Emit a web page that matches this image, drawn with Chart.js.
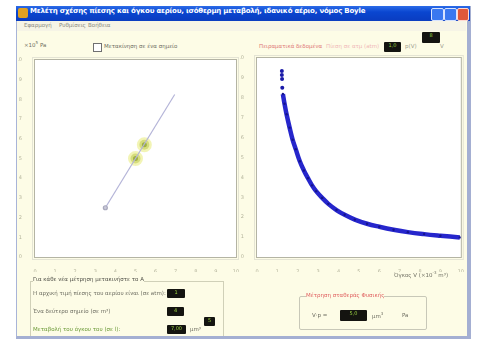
<!DOCTYPE html>
<html>
<head>
<meta charset="utf-8">
<script src="https://cdn.jsdelivr.net/npm/chart.js@4/dist/chart.umd.min.js"></script>
<style>
  body { margin: 0; width: 478px; height: 347px; background: #fff; position: relative; overflow: hidden;
         font-family: "DejaVu Sans", sans-serif; }
  .abs { position: absolute; white-space: nowrap; }
  #win { left: 16px; top: 6px; width: 450px; height: 330px; background: #fdfce6;
         border-left: 1px solid #a8b4d8; border-right: 4px solid #a4afd2; border-bottom: 3px solid #a4afd2; }
  #titlebar { left: 16px; top: 6px; width: 454px; height: 15px;
              background: linear-gradient(#2c6ce8, #0a46d0 40%, #0a3cc0); }
  #title { left: 30px; top: 7px; color: #fff; font-weight: bold; font-size: 7px; letter-spacing: -0.2px; }
  #menu { left: 17px; top: 21px; width: 449px; height: 10px; background: #f6f4e6; }
  .menuitem { top: 22px; font-size: 5.5px; color: #8a8a80; }
  .small { font-size: 5.5px; color: #6e6e62; }
  .box { background: #141410; border-radius: 1px; color: #9ad040; font-size: 5px; text-align: center; }
  canvas { position: absolute; }
</style>
</head>
<body>
<div id="win" class="abs"></div>
<div id="titlebar" class="abs"></div>
<div class="abs" style="left:18px;top:8px;width:10px;height:10px;background:#e0a020;border-radius:2px"></div>
<div id="title" class="abs">Μελέτη σχέσης πίεσης και όγκου αερίου, ισόθερμη μεταβολή, ιδανικό αέριο, νόμος Boyle</div>
<div class="abs" style="left:431px;top:8px;width:11px;height:11px;background:#3a78f0;border:1px solid #d8e4ff;border-radius:2px"></div>
<div class="abs" style="left:444px;top:8px;width:11px;height:11px;background:#3a78f0;border:1px solid #d8e4ff;border-radius:2px"></div>
<div class="abs" style="left:457px;top:8px;width:10px;height:11px;background:#e0583a;border:1px solid #ffd8d0;border-radius:2px"></div>
<div id="menu" class="abs"></div>
<div class="abs menuitem" style="left:24px">Εφαρμογή</div>
<div class="abs menuitem" style="left:59px">Ρυθμίσεις</div>
<div class="abs menuitem" style="left:88px">Βοήθεια</div>

<div class="abs small" style="left:24px;top:40px">×10<sup style="font-size:4px">5</sup> Pa</div>
<div class="abs" style="left:93px;top:43px;width:7px;height:7px;border:1px solid #707070;background:#fff"></div>
<div class="abs small" style="left:104px;top:43px">Μετακίνηση σε ένα σημείο</div>

<div class="abs small" style="left:259px;top:43px;color:#e07878">Πειραματικά δεδομένα</div>
<div class="abs small" style="left:326px;top:43px;color:#f0b8b8">Πίεση σε ατμ (atm)</div>
<div class="abs box" style="left:384px;top:42px;width:17px;height:10px">1,0</div>
<div class="abs small" style="left:405px;top:43px;color:#a0a090">p(V)</div>
<div class="abs small" style="left:440px;top:43px;color:#a0a090">V</div>
<div class="abs box" style="left:422px;top:32px;width:18px;height:11px">8</div>

<canvas id="leftChart" width="228" height="222" style="left:18px;top:50px"></canvas>
<canvas id="rightChart" width="228" height="222" style="left:240px;top:50px"></canvas>

<div class="abs small" style="left:394px;top:270px;color:#707064">Όγκος V (×10<sup style="font-size:4px">-3</sup> m³)</div>

<div class="abs" style="left:30px;top:281px;width:192px;height:54px;border:1px solid #d0d0b8;border-bottom:none"></div>
<div class="abs small" style="left:33px;top:276px;background:#fdfce6;color:#505048">Για κάθε νέα μέτρηση μετακινήστε το Α</div>
<div class="abs small" style="left:33px;top:290px">Η αρχική τιμή πίεσης του αερίου είναι (σε atm):</div>
<div class="abs box" style="left:167px;top:289px;width:18px;height:9px">1</div>
<div class="abs small" style="left:33px;top:308px">Ένα δεύτερο σημείο (σε m³)</div>
<div class="abs box" style="left:167px;top:307px;width:17px;height:9px">4</div>
<div class="abs small" style="left:33px;top:326px;color:#6c9a38">Μεταβολή του όγκου του (σε l):</div>
<div class="abs box" style="left:167px;top:325px;width:19px;height:9px">7,00</div>
<div class="abs small" style="left:190px;top:326px">μm³</div>
<div class="abs box" style="left:204px;top:317px;width:11px;height:9px">5</div>

<div class="abs" style="left:299px;top:296px;width:126px;height:32px;border:1px solid #c8c8b8;border-radius:2px"></div>
<div class="abs small" style="left:306px;top:292px;background:#fdfce6;color:#e06060">Μέτρηση σταθεράς Φυσικής</div>
<div class="abs small" style="left:312px;top:312px">V·p =</div>
<div class="abs box" style="left:340px;top:310px;width:27px;height:11px">5,0</div>
<div class="abs small" style="left:372px;top:311px">μm<sup style="font-size:4px">3</sup></div>
<div class="abs small" style="left:402px;top:312px">Pa</div>

<script>
// tick labels shared by both plots
const tickLabels = ['0', '1', '2', '3', '4', '5', '6', '7', '8', '9', '10'];

// left plot: p against 1/V
const lineX = [3.5, 6.95];
const lineY = [2.5, 8.25];
const markX = [5.0, 5.44];
const markY = [5.0, 5.7];

// right plot: p against V
const curveV = [1.27, 1.35, 1.45, 1.6, 1.75, 1.9, 2.1, 2.3, 2.5, 2.7, 2.9, 3.2, 3.5, 3.9, 4.3, 4.8, 5.4, 6.0, 6.7, 7.4, 8.2, 9.0, 9.95];
const curveP = [8.19, 7.7, 7.17, 6.5, 5.89, 5.42, 4.81, 4.35, 3.96, 3.6, 3.31, 2.97, 2.67, 2.36, 2.12, 1.88, 1.67, 1.52, 1.37, 1.25, 1.15, 1.07, 0.985];
const topV = [1.22, 1.22, 1.23, 1.24];
const topP = [9.35, 9.15, 8.95, 8.5];
const redV = [1.55, 1.8];
const redP = [6.6, 5.75];

const pts = (xs, ys) => xs.map((x, i) => ({ x: x, y: ys[i] }));

const frame = {
    id: 'frame',
    beforeDatasetsDraw(chart) {
        const a = chart.chartArea, c = chart.ctx;
        c.save();
        c.fillStyle = '#ffffff';
        c.fillRect(a.left, a.top, a.right - a.left, a.bottom - a.top);
        c.strokeStyle = '#b4b4a4';
        c.lineWidth = 1;
        c.strokeRect(a.left - 0.5, a.top - 0.5, a.right - a.left + 1, a.bottom - a.top + 1);
        c.strokeStyle = '#e4e4d4';
        c.strokeRect(a.left - 2.5, a.top - 2.5, a.right - a.left + 5, a.bottom - a.top + 5);
        c.restore();
    }
};

function axes() {
    const tickFont = { family: 'DejaVu Sans', size: 5 };
    return {
        x: {
            type: 'linear', min: 0, max: 10,
            grid: { display: false },
            border: { display: false },
            afterFit: (s) => { s.height = 15; },
            ticks: { stepSize: 1, padding: 4, color: '#b4b49c', font: tickFont,
                     maxRotation: 0, callback: (v) => tickLabels[v] },
        },
        y: {
            type: 'linear', min: 0, max: 10,
            grid: { display: false },
            border: { display: false },
            afterFit: (s) => { s.width = 17; },
            ticks: { stepSize: 1, padding: 5, color: '#b4b49c', font: tickFont,
                     callback: (v) => tickLabels[v] },
        },
    };
}

new Chart(document.getElementById('leftChart'), {
    type: 'scatter',
    data: {
        datasets: [{
            data: pts(lineX, lineY),
            showLine: true,
            borderColor: '#b4b4d8',
            borderWidth: 1.2,
            pointRadius: [2, 0],
            pointBackgroundColor: '#c8c8d8',
            pointBorderColor: '#a8a8bc',
        }, {
            data: pts(markX, markY),
            pointRadius: 5,
            pointBackgroundColor: '#9fb042',
            pointBorderColor: 'rgba(236, 240, 150, 0.7)',
            pointBorderWidth: 5,
        }],
    },
    options: {
        responsive: false,
        animation: false,
        layout: { padding: { top: 4, right: 5 } },
        plugins: { legend: { display: false }, tooltip: { enabled: false } },
        scales: axes(),
    },
    plugins: [frame],
});

new Chart(document.getElementById('rightChart'), {
    type: 'scatter',
    data: {
        datasets: [{
            data: pts(curveV, curveP),
            showLine: true,
            tension: 0.4,
            borderColor: '#2626cc',
            borderWidth: 4.5,
            pointRadius: 1.2,
            pointBackgroundColor: '#14148c',
            pointBorderWidth: 0,
        }, {
            data: pts(topV, topP),
            pointRadius: 2,
            pointBackgroundColor: '#1a1aa8',
            pointBorderWidth: 0,
        }, {
            data: pts(redV, redP),
            pointRadius: 1.5,
            pointBackgroundColor: '#e05050',
            pointBorderWidth: 0,
        }],
    },
    options: {
        responsive: false,
        animation: false,
        layout: { padding: { top: 5, right: 5 } },
        plugins: { legend: { display: false }, tooltip: { enabled: false } },
        scales: axes(),
    },
    plugins: [frame],
});
</script>
</body>
</html>
